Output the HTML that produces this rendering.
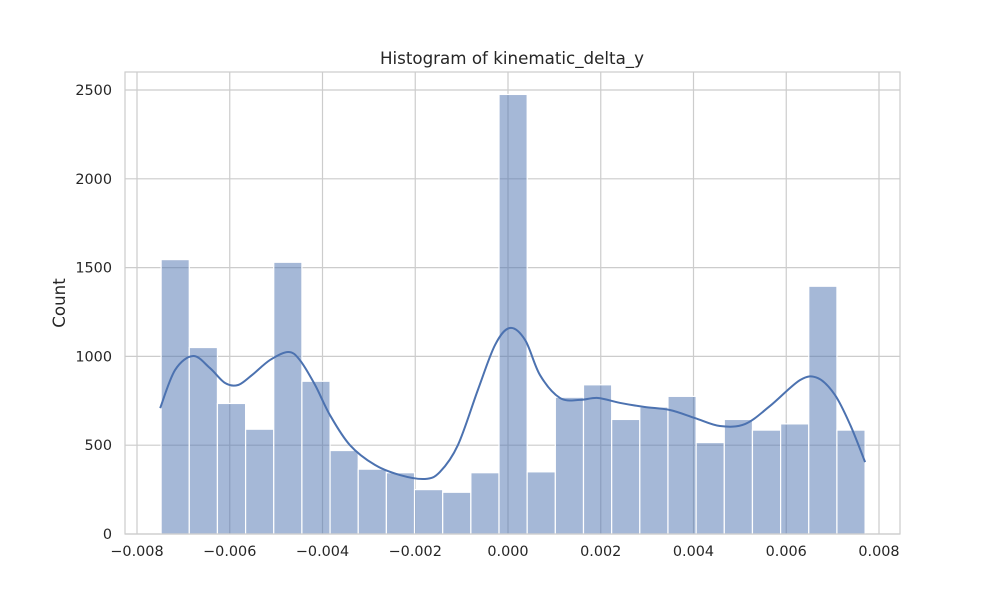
<!DOCTYPE html>
<html><head><meta charset="utf-8"><style>
body{margin:0;background:#fff;}
svg{display:block;font-family:"DejaVu Sans","Liberation Sans",sans-serif;}
</style></head><body>
<svg id="chart" width="1000" height="600">
<rect width="1000" height="600" fill="#fff"/>
<text x="512" y="64" text-anchor="middle" font-size="16.7" fill="#262626">Histogram of kinematic_delta_y</text>
<text transform="translate(65,303) rotate(-90)" text-anchor="middle" font-size="16.7" fill="#262626">Count</text>
<g id="grid"></g><g id="bars"></g><g id="kde"></g><g id="ticks"></g>
<rect x="125" y="72" width="775" height="462" fill="none" stroke="#ccc" stroke-width="1.2"/>
</svg>
<script>
const binStart = -0.00748;
const binEnd = 0.00770;
const counts = [1545,1050,735,590,1530,860,470,365,345,250,235,345,2475,350,770,840,645,715,775,515,645,585,620,1395,585];
const kdeX = [-0.00750,-0.00718,-0.00679,-0.00643,-0.00610,-0.00582,-0.00552,-0.00513,-0.00474,-0.00449,-0.00416,-0.00384,-0.00341,-0.00287,-0.00233,-0.00179,-0.00147,-0.00108,-0.00065,-0.00028,0.00004,0.00037,0.00069,0.00112,0.00155,0.00194,0.00242,0.00295,0.00349,0.00403,0.00457,0.00511,0.00565,0.00630,0.00668,0.00705,0.00738,0.00770];
const kdeY = [709,923,1002,935,850,839,895,980,1025,980,839,670,501,389,332,310,349,501,811,1064,1160,1092,895,766,755,766,738,715,698,653,608,619,721,867,878,783,614,405];
const xTicks = [-0.008,-0.006,-0.004,-0.002,0,0.002,0.004,0.006,0.008];
const xTickLabels = ["\u22120.008","\u22120.006","\u22120.004","\u22120.002","0.000","0.002","0.004","0.006","0.008"];
const yTicks = [0,500,1000,1500,2000,2500];

const NS="http://www.w3.org/2000/svg";
const X = v => 137 + (v + 0.008) * 46375;
const Y = v => 534 - v * 0.1776;
function mk(tag, attrs, parent){const e=document.createElementNS(NS,tag);for(const k in attrs)e.setAttribute(k,attrs[k]);document.getElementById(parent).appendChild(e);return e;}

xTicks.forEach((t,i)=>{
  const g=mk('line',{x1:X(t),x2:X(t),y1:72,y2:534,stroke:'#ccc','stroke-width':1.2},'grid');
  
  
  const l=mk('text',{x:X(t),y:556,'text-anchor':'middle','font-size':14.4,fill:'#262626'},'ticks');
  l.textContent=xTickLabels[i];
  
  
});
yTicks.forEach(t=>{
  const g=mk('line',{x1:125,x2:900,y1:Y(t),y2:Y(t),stroke:'#ccc','stroke-width':1.2},'grid');
  
  
  const l=mk('text',{x:112,y:Y(t)+5,'text-anchor':'end','font-size':14.4,fill:'#262626'},'ticks');
  l.textContent=String(t);
  
  
});
const bw=(binEnd-binStart)/counts.length;
counts.forEach((c,i)=>{
  const x0=X(binStart+i*bw), x1=X(binStart+(i+1)*bw);
  const r=mk('rect',{x:x0,y:Y(c),width:x1-x0,height:Y(0)-Y(c),fill:'rgba(76,114,176,0.5)',stroke:'#fff','stroke-width':1.2},'bars');
  
  
});
const pts=kdeX.map((v,i)=>[X(v),Y(kdeY[i])]);
let d=`M${pts[0][0]},${pts[0][1]}`;
for(let i=0;i<pts.length-1;i++){
  const p0=pts[Math.max(0,i-1)],p1=pts[i],p2=pts[i+1],p3=pts[Math.min(pts.length-1,i+2)];
  const c1=[p1[0]+(p2[0]-p0[0])/6,p1[1]+(p2[1]-p0[1])/6];
  const c2=[p2[0]-(p3[0]-p1[0])/6,p2[1]-(p3[1]-p1[1])/6];
  d+=` C${c1[0]},${c1[1]} ${c2[0]},${c2[1]} ${p2[0]},${p2[1]}`;
}
const k=mk('path',{d:d,fill:'none',stroke:'#4c72b0','stroke-width':2},'kde');


</script>
</body></html>
